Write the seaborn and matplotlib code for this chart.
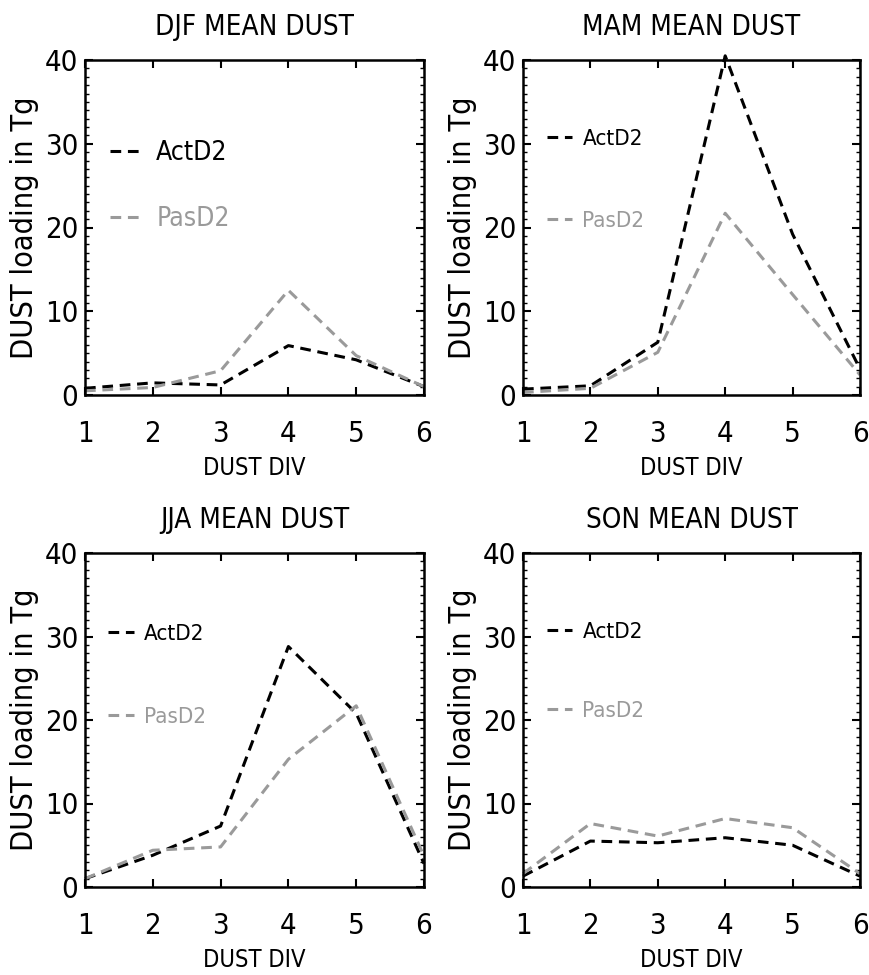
import matplotlib
matplotlib.use("Agg")
import matplotlib.pyplot as plt
from matplotlib.ticker import MultipleLocator
import seaborn as sns
import pandas as pd

# Dust division index on the x axis
dust_div = [1, 2, 3, 4, 5, 6]

# Seasonal mean dust loading (Tg)
djf_act = [0.8, 1.45, 1.2, 5.9, 4.2, 1.0]
djf_pas = [0.5, 0.9, 2.9, 12.5, 4.7, 1.0]
mam_act = [0.7, 1.1, 6.3, 40.5, 19.2, 3.1]
mam_pas = [0.3, 0.8, 5.1, 21.7, 12.0, 2.4]
jja_act = [1.0, 3.8, 7.3, 28.8, 20.8, 2.8]
jja_pas = [1.0, 4.4, 4.8, 15.3, 21.7, 3.7]
son_act = [1.3, 5.5, 5.3, 5.9, 5.0, 1.3]
son_pas = [1.6, 7.6, 6.1, 8.2, 7.1, 1.6]

seasons = ["DJF", "MAM", "JJA", "SON"]
act_series = [djf_act, mam_act, jja_act, son_act]
pas_series = [djf_pas, mam_pas, jja_pas, son_pas]

sns.set_style("ticks", {"text.color": "black", "axes.labelcolor": "black",
                        "xtick.color": "black", "ytick.color": "black",
                        "axes.edgecolor": "black"})
plt.rcParams['font.family'] = ['DejaVu Sans']
plt.rcParams['font.stretch'] = 'condensed'
plt.rcParams['axes.linewidth'] = 1.8

fig = plt.figure(figsize=(8.69, 9.75), dpi=100)
W, H = 869.0, 975.0
boxes = [(85, 60, 424, 395), (523, 60, 860, 395),
         (85, 553, 424, 887), (523, 553, 860, 887)]

# legend placement per panel: (x anchor, y anchor, fontsize, spacing, handle length)
leg_opts = [(0.074, 0.76, 19, 1.5, 1.3),
            (0.071, 0.795, 16, 2.8, 1.15),
            (0.068, 0.788, 16, 2.85, 1.15),
            (0.071, 0.793, 16, 2.65, 1.15)]

gray = "#9a9a9a"
for i, season in enumerate(seasons):
    l, t, r, b = boxes[i]
    ax = fig.add_axes([l / W, 1 - b / H, (r - l) / W, (b - t) / H])
    df = pd.DataFrame({"div": dust_div * 2,
                       "dust": act_series[i] + pas_series[i],
                       "run": ["ActD2"] * 6 + ["PasD2"] * 6})
    sns.lineplot(data=df, x="div", y="dust", hue="run",
                 palette={"ActD2": "black", "PasD2": gray},
                 linewidth=2.2, ax=ax, legend=False, clip_on=False)
    for ln in ax.lines:
        ln.set_dashes([3.5, 2.2])

    ax.set_xlim(1, 6)
    ax.set_ylim(0, 40)
    ax.xaxis.set_major_locator(MultipleLocator(1))
    ax.yaxis.set_major_locator(MultipleLocator(10))
    ax.yaxis.set_minor_locator(MultipleLocator(1))
    ax.tick_params(axis="both", which="major", direction="in", length=6,
                   width=1.5, top=True, right=True, labelsize=21)
    ax.tick_params(axis="x", which="major", pad=18)
    ax.tick_params(axis="y", which="major", pad=5)
    ax.tick_params(axis="y", which="minor", direction="in", length=3,
                   width=1.0, right=True)
    ax.set_title(f"{season} MEAN DUST", fontsize=20, pad=18)
    ax.set_xlabel("DUST DIV", fontsize=17, labelpad=6)
    ax.set_ylabel("DUST loading in Tg", fontsize=22, labelpad=4)

    lx, ly, fs, sp, hl = leg_opts[i]
    ax.legend(handles=ax.lines, labels=["ActD2", "PasD2"],
              loc="upper left", bbox_to_anchor=(lx, ly), borderpad=0,
              borderaxespad=0, frameon=False, fontsize=fs, handlelength=hl,
              handletextpad=0.45, labelspacing=sp, labelcolor="linecolor")

plt.savefig("out.png", dpi=100)
